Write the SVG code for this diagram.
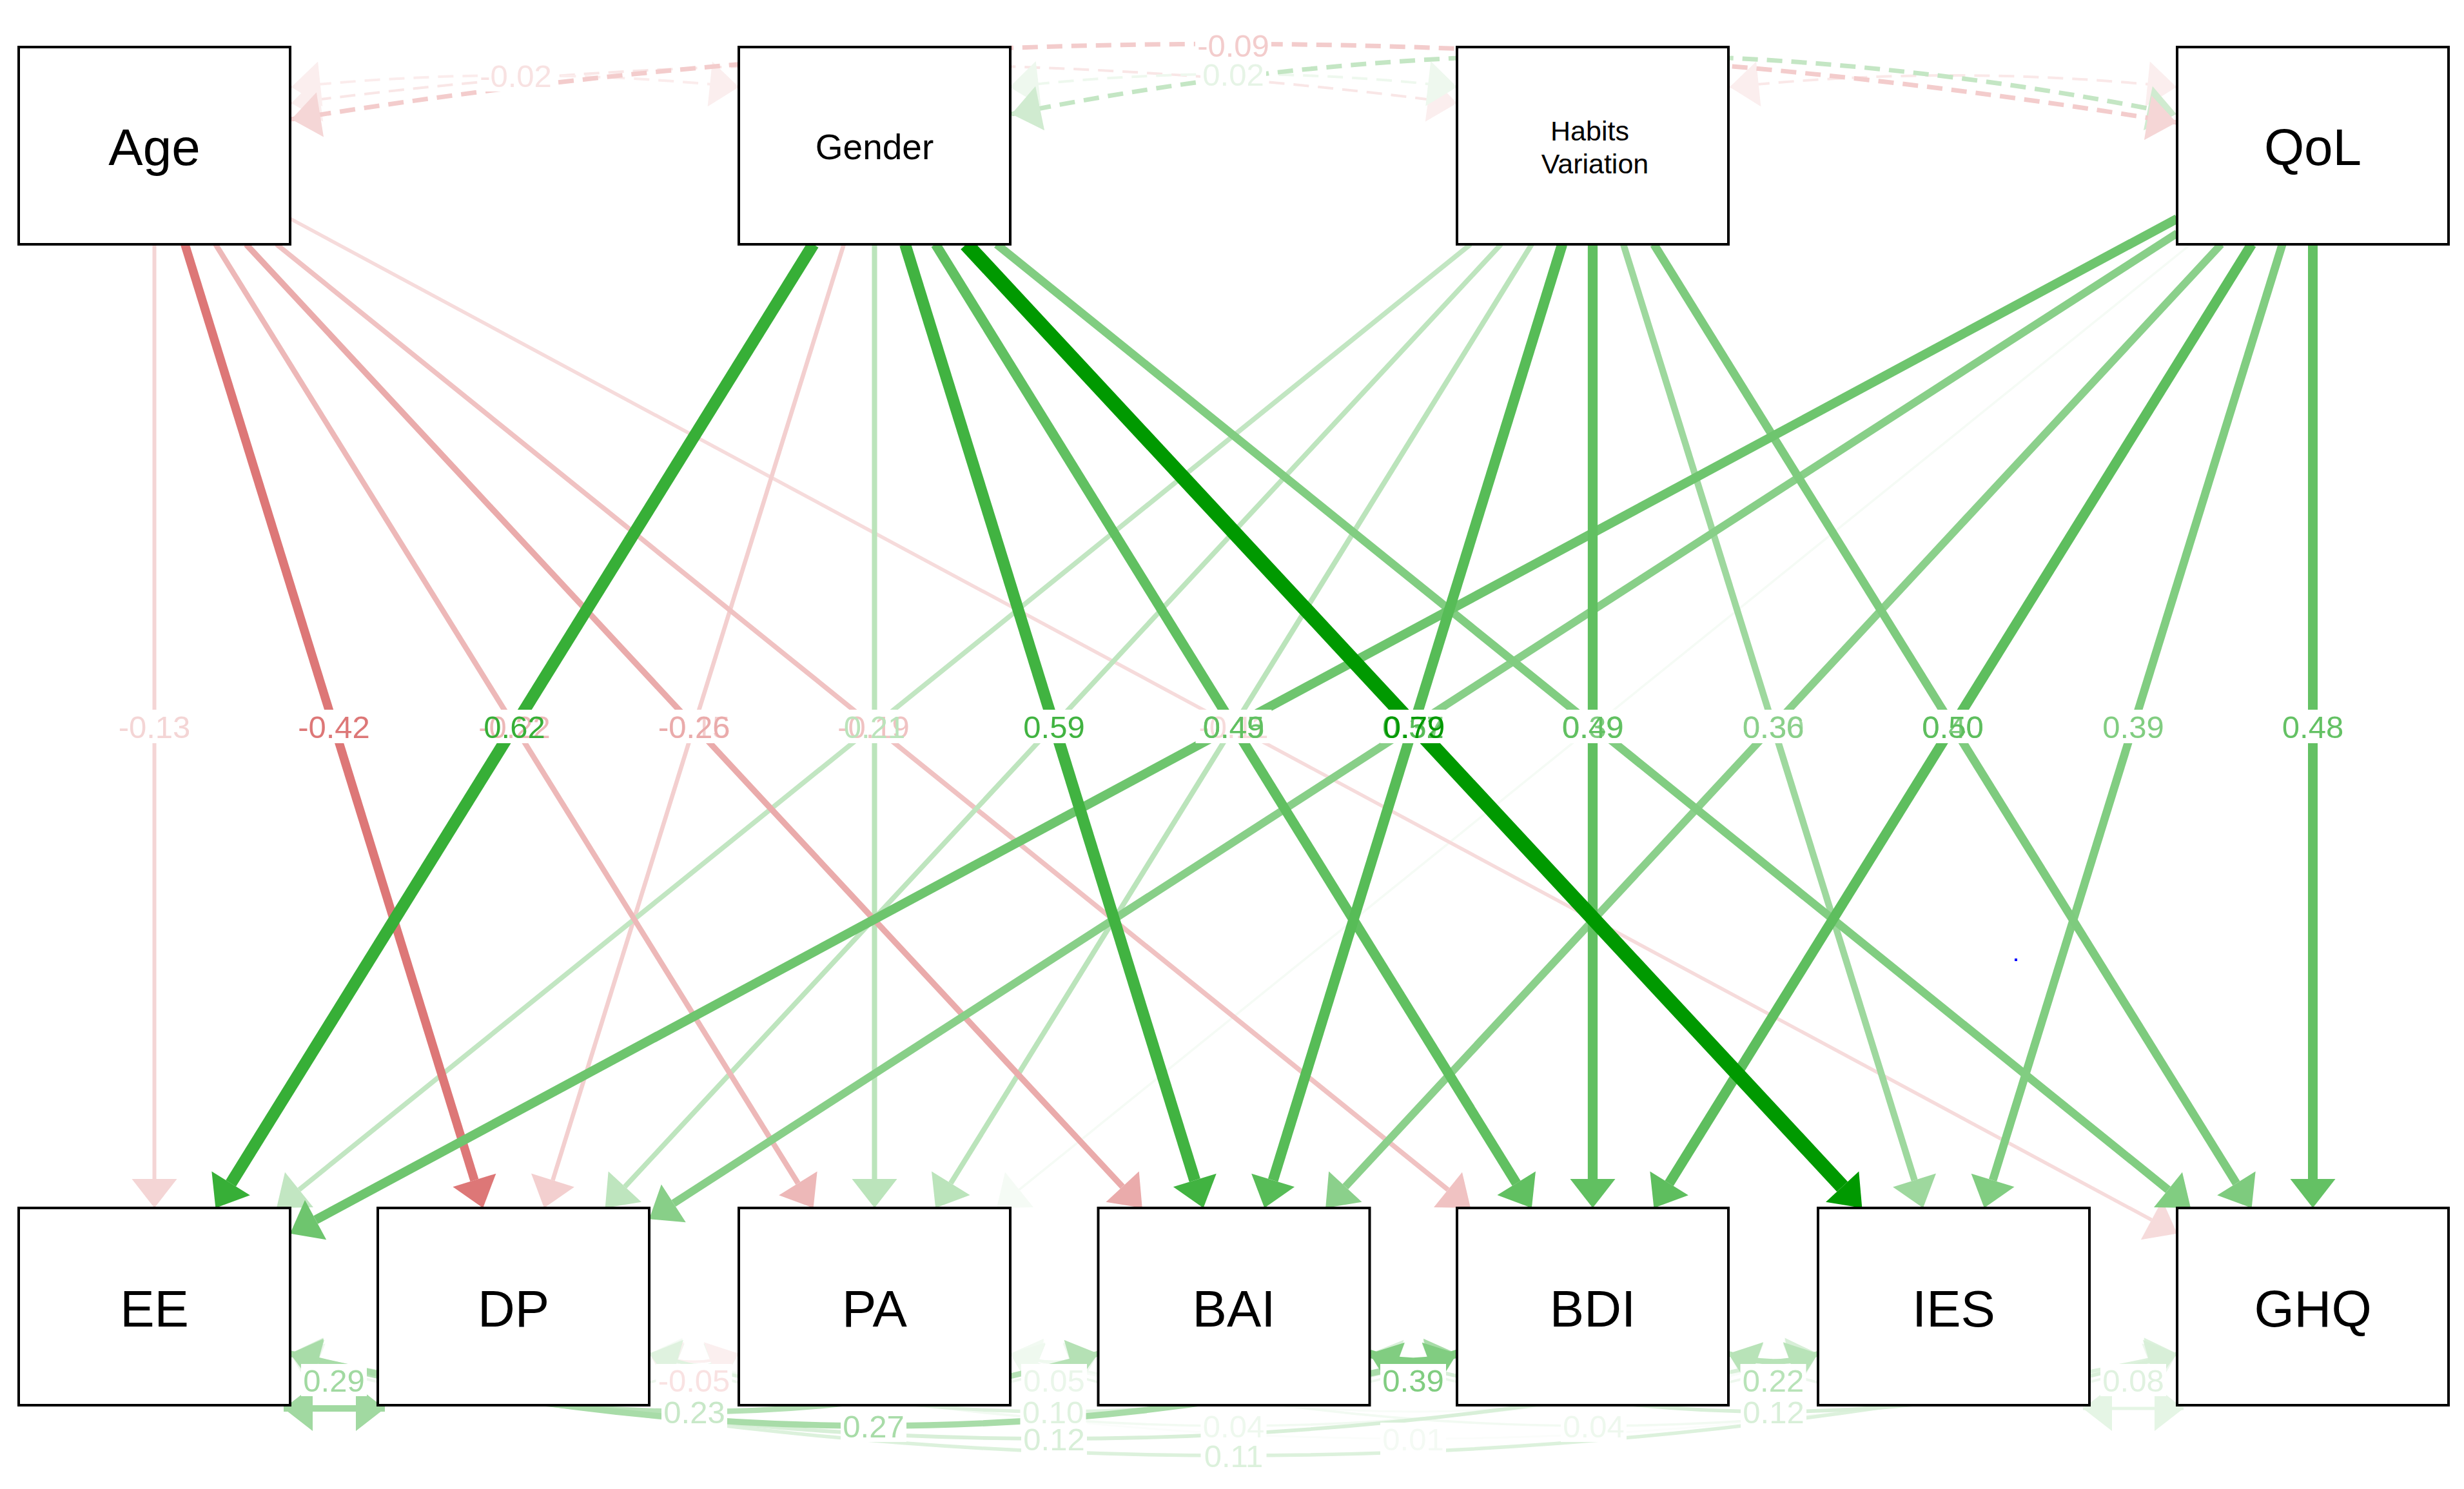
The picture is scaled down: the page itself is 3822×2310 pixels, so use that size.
<svg xmlns="http://www.w3.org/2000/svg" width="3822" height="2310" viewBox="0 0 3822 2310">
<style>
.e{fill:none;stroke-linecap:butt}
.d{stroke-dasharray:24 14}
.bg{fill:#fff}
.l{font-family:"Liberation Sans",Arial,sans-serif;font-size:49px;text-anchor:middle}
.n{fill:#fff;stroke:#000;stroke-width:4}
.nt{font-family:"Liberation Sans",Arial,sans-serif;text-anchor:middle;fill:#000}
</style>
<defs>
<!-- base markers: line ends at arrow base -->
<marker id="a-f4d5d5" markerUnits="userSpaceOnUse" markerWidth="46" markerHeight="71" refX="0" refY="35" orient="auto" overflow="visible"><path d="M0,0L45,35L0,70z" fill="#f4d5d5"/></marker>
<marker id="a-dd7777" markerUnits="userSpaceOnUse" markerWidth="46" markerHeight="71" refX="0" refY="35" orient="auto" overflow="visible"><path d="M0,0L45,35L0,70z" fill="#dd7777"/></marker>
<marker id="a-edb8b8" markerUnits="userSpaceOnUse" markerWidth="46" markerHeight="71" refX="0" refY="35" orient="auto" overflow="visible"><path d="M0,0L45,35L0,70z" fill="#edb8b8"/></marker>
<marker id="a-eaabab" markerUnits="userSpaceOnUse" markerWidth="46" markerHeight="71" refX="0" refY="35" orient="auto" overflow="visible"><path d="M0,0L45,35L0,70z" fill="#eaabab"/></marker>
<marker id="a-f0c2c2" markerUnits="userSpaceOnUse" markerWidth="46" markerHeight="71" refX="0" refY="35" orient="auto" overflow="visible"><path d="M0,0L45,35L0,70z" fill="#f0c2c2"/></marker>
<marker id="a-f6dbdb" markerUnits="userSpaceOnUse" markerWidth="46" markerHeight="71" refX="0" refY="35" orient="auto" overflow="visible"><path d="M0,0L45,35L0,70z" fill="#f6dbdb"/></marker>
<marker id="a-f3cfcf" markerUnits="userSpaceOnUse" markerWidth="46" markerHeight="71" refX="0" refY="35" orient="auto" overflow="visible"><path d="M0,0L45,35L0,70z" fill="#f3cfcf"/></marker>
<marker id="a-37af37" markerUnits="userSpaceOnUse" markerWidth="46" markerHeight="71" refX="0" refY="35" orient="auto" overflow="visible"><path d="M0,0L45,35L0,70z" fill="#37af37"/></marker>
<marker id="a-bbe4bb" markerUnits="userSpaceOnUse" markerWidth="46" markerHeight="71" refX="0" refY="35" orient="auto" overflow="visible"><path d="M0,0L45,35L0,70z" fill="#bbe4bb"/></marker>
<marker id="a-41b341" markerUnits="userSpaceOnUse" markerWidth="46" markerHeight="71" refX="0" refY="35" orient="auto" overflow="visible"><path d="M0,0L45,35L0,70z" fill="#41b341"/></marker>
<marker id="a-61c061" markerUnits="userSpaceOnUse" markerWidth="46" markerHeight="71" refX="0" refY="35" orient="auto" overflow="visible"><path d="M0,0L45,35L0,70z" fill="#61c061"/></marker>
<marker id="a-009900" markerUnits="userSpaceOnUse" markerWidth="46" markerHeight="71" refX="0" refY="35" orient="auto" overflow="visible"><path d="M0,0L45,35L0,70z" fill="#009900"/></marker>
<marker id="a-81cd81" markerUnits="userSpaceOnUse" markerWidth="46" markerHeight="71" refX="0" refY="35" orient="auto" overflow="visible"><path d="M0,0L45,35L0,70z" fill="#81cd81"/></marker>
<marker id="a-c2e6c2" markerUnits="userSpaceOnUse" markerWidth="46" markerHeight="71" refX="0" refY="35" orient="auto" overflow="visible"><path d="M0,0L45,35L0,70z" fill="#c2e6c2"/></marker>
<marker id="a-bee5be" markerUnits="userSpaceOnUse" markerWidth="46" markerHeight="71" refX="0" refY="35" orient="auto" overflow="visible"><path d="M0,0L45,35L0,70z" fill="#bee5be"/></marker>
<marker id="a-57bc57" markerUnits="userSpaceOnUse" markerWidth="46" markerHeight="71" refX="0" refY="35" orient="auto" overflow="visible"><path d="M0,0L45,35L0,70z" fill="#57bc57"/></marker>
<marker id="a-9ed89e" markerUnits="userSpaceOnUse" markerWidth="46" markerHeight="71" refX="0" refY="35" orient="auto" overflow="visible"><path d="M0,0L45,35L0,70z" fill="#9ed89e"/></marker>
<marker id="a-7ecb7e" markerUnits="userSpaceOnUse" markerWidth="46" markerHeight="71" refX="0" refY="35" orient="auto" overflow="visible"><path d="M0,0L45,35L0,70z" fill="#7ecb7e"/></marker>
<marker id="a-6ec56e" markerUnits="userSpaceOnUse" markerWidth="46" markerHeight="71" refX="0" refY="35" orient="auto" overflow="visible"><path d="M0,0L45,35L0,70z" fill="#6ec56e"/></marker>
<marker id="a-88cf88" markerUnits="userSpaceOnUse" markerWidth="46" markerHeight="71" refX="0" refY="35" orient="auto" overflow="visible"><path d="M0,0L45,35L0,70z" fill="#88cf88"/></marker>
<marker id="a-f5fbf5" markerUnits="userSpaceOnUse" markerWidth="46" markerHeight="71" refX="0" refY="35" orient="auto" overflow="visible"><path d="M0,0L45,35L0,70z" fill="#f5fbf5"/></marker>
<marker id="a-8bd08b" markerUnits="userSpaceOnUse" markerWidth="46" markerHeight="71" refX="0" refY="35" orient="auto" overflow="visible"><path d="M0,0L45,35L0,70z" fill="#8bd08b"/></marker>
<marker id="a-5ebe5e" markerUnits="userSpaceOnUse" markerWidth="46" markerHeight="71" refX="0" refY="35" orient="auto" overflow="visible"><path d="M0,0L45,35L0,70z" fill="#5ebe5e"/></marker>
<marker id="a-64c164" markerUnits="userSpaceOnUse" markerWidth="46" markerHeight="71" refX="0" refY="35" orient="auto" overflow="visible"><path d="M0,0L45,35L0,70z" fill="#64c164"/></marker>
<!-- tip markers: path ends at arrow tip, both ends -->
<marker id="t-f3cccc" markerUnits="userSpaceOnUse" markerWidth="46" markerHeight="71" refX="45" refY="35" orient="auto-start-reverse" overflow="visible"><path d="M0,0L45,35L0,70z" fill="#f5d6d6"/></marker>
<marker id="t-c4e6c4" markerUnits="userSpaceOnUse" markerWidth="46" markerHeight="71" refX="45" refY="35" orient="auto-start-reverse" overflow="visible"><path d="M0,0L45,35L0,70z" fill="#d0ebd0"/></marker>
<marker id="t-fbecec" markerUnits="userSpaceOnUse" markerWidth="46" markerHeight="71" refX="45" refY="35" orient="auto-start-reverse" overflow="visible"><path d="M0,0L45,35L0,70z" fill="#fbeeee"/></marker>
<marker id="t-eef8ee" markerUnits="userSpaceOnUse" markerWidth="46" markerHeight="71" refX="45" refY="35" orient="auto-start-reverse" overflow="visible"><path d="M0,0L45,35L0,70z" fill="#eef8ee"/></marker>
<marker id="t-fae8e8" markerUnits="userSpaceOnUse" markerWidth="46" markerHeight="71" refX="45" refY="35" orient="auto-start-reverse" overflow="visible"><path d="M0,0L45,35L0,70z" fill="#fbeeee"/></marker>
<marker id="t-a1d9a1" markerUnits="userSpaceOnUse" markerWidth="46" markerHeight="71" refX="45" refY="35" orient="auto-start-reverse" overflow="visible"><path d="M0,0L45,35L0,70z" fill="#a1d9a1"/></marker>
<marker id="t-fbefef" markerUnits="userSpaceOnUse" markerWidth="46" markerHeight="71" refX="45" refY="35" orient="auto-start-reverse" overflow="visible"><path d="M0,0L45,35L0,70z" fill="#fbefef"/></marker>
<marker id="t-eff9ef" markerUnits="userSpaceOnUse" markerWidth="46" markerHeight="71" refX="45" refY="35" orient="auto-start-reverse" overflow="visible"><path d="M0,0L45,35L0,70z" fill="#eff9ef"/></marker>
<marker id="t-81cd81" markerUnits="userSpaceOnUse" markerWidth="46" markerHeight="71" refX="45" refY="35" orient="auto-start-reverse" overflow="visible"><path d="M0,0L45,35L0,70z" fill="#81cd81"/></marker>
<marker id="t-b8e3b8" markerUnits="userSpaceOnUse" markerWidth="46" markerHeight="71" refX="45" refY="35" orient="auto-start-reverse" overflow="visible"><path d="M0,0L45,35L0,70z" fill="#b8e3b8"/></marker>
<marker id="t-e5f5e5" markerUnits="userSpaceOnUse" markerWidth="46" markerHeight="71" refX="45" refY="35" orient="auto-start-reverse" overflow="visible"><path d="M0,0L45,35L0,70z" fill="#e5f5e5"/></marker>
<marker id="t-b5e1b5" markerUnits="userSpaceOnUse" markerWidth="46" markerHeight="71" refX="45" refY="35" orient="auto-start-reverse" overflow="visible"><path d="M0,0L45,35L0,70z" fill="#b5e1b5"/></marker>
<marker id="t-dff2df" markerUnits="userSpaceOnUse" markerWidth="46" markerHeight="71" refX="45" refY="35" orient="auto-start-reverse" overflow="visible"><path d="M0,0L45,35L0,70z" fill="#dff2df"/></marker>
<marker id="t-f8fcf8" markerUnits="userSpaceOnUse" markerWidth="46" markerHeight="71" refX="45" refY="35" orient="auto-start-reverse" overflow="visible"><path d="M0,0L45,35L0,70z" fill="#f8fcf8"/></marker>
<marker id="t-d8efd8" markerUnits="userSpaceOnUse" markerWidth="46" markerHeight="71" refX="45" refY="35" orient="auto-start-reverse" overflow="visible"><path d="M0,0L45,35L0,70z" fill="#d8efd8"/></marker>
<marker id="t-a8dca8" markerUnits="userSpaceOnUse" markerWidth="46" markerHeight="71" refX="45" refY="35" orient="auto-start-reverse" overflow="visible"><path d="M0,0L45,35L0,70z" fill="#a8dca8"/></marker>
<marker id="t-f2faf2" markerUnits="userSpaceOnUse" markerWidth="46" markerHeight="71" refX="45" refY="35" orient="auto-start-reverse" overflow="visible"><path d="M0,0L45,35L0,70z" fill="#f2faf2"/></marker>
<marker id="t-dcf1dc" markerUnits="userSpaceOnUse" markerWidth="46" markerHeight="71" refX="45" refY="35" orient="auto-start-reverse" overflow="visible"><path d="M0,0L45,35L0,70z" fill="#dcf1dc"/></marker>
<marker id="t-edf7ed" markerUnits="userSpaceOnUse" markerWidth="46" markerHeight="71" refX="45" refY="35" orient="auto-start-reverse" overflow="visible"><path d="M0,0L45,35L0,70z" fill="#edf7ed"/></marker>
</defs>
<rect width="3822" height="2310" fill="#fff"/>
<g id="connectors">
<!-- top covariances -->
<path class="e d" d="M452,160 Q1355,40 2260,160" stroke="#f9e6e6" stroke-width="4" marker-start="url(#t-fae8e8)" marker-end="url(#t-fae8e8)"/>
<path class="e d" d="M2683,135 Q3029,99 3376,135" stroke="#fae8e8" stroke-width="4" marker-start="url(#t-fae8e8)" marker-end="url(#t-fae8e8)"/>
<path class="e d" d="M452,135 Q798,99 1146,135" stroke="#fbecec" stroke-width="4" marker-start="url(#t-fbecec)" marker-end="url(#t-fbecec)"/>
<path class="e d" d="M1566,135 Q1913,95 2260,135" stroke="#eef8ee" stroke-width="4" marker-start="url(#t-eef8ee)" marker-end="url(#t-eef8ee)"/>
<path class="e d" d="M1569,177 Q2472,-7 3376,177" stroke="#c4e6c4" stroke-width="7" marker-start="url(#t-c4e6c4)" marker-end="url(#t-c4e6c4)"/>
<path class="e d" d="M452,185 Q1913,-51 3376,190" stroke="#f3cccc" stroke-width="7" marker-start="url(#t-f3cccc)" marker-end="url(#t-f3cccc)"/>
<!-- regressions -->
<line class="e" x1="3398" y1="379" x2="1581" y2="1845.7" stroke="#f5fbf5" stroke-width="3.5" marker-end="url(#a-f5fbf5)"/>
<line class="e" x1="450" y1="339.2" x2="3337.4" y2="1892.5" stroke="#f6dbdb" stroke-width="5.5" marker-end="url(#a-f6dbdb)"/>
<line class="e" x1="239.5" y1="379" x2="239.5" y2="1829" stroke="#f4d5d5" stroke-width="6" marker-end="url(#a-f4d5d5)"/>
<line class="e" x1="1308.9" y1="379" x2="857.4" y2="1831" stroke="#f3cfcf" stroke-width="6.6" marker-end="url(#a-f3cfcf)"/>
<line class="e" x1="429" y1="379" x2="2246" y2="1845.7" stroke="#f0c2c2" stroke-width="7.6" marker-end="url(#a-f0c2c2)"/>
<line class="e" x1="2281" y1="379" x2="464" y2="1845.7" stroke="#c2e6c2" stroke-width="7.6" marker-end="url(#a-c2e6c2)"/>
<line class="e" x1="2328.3" y1="379" x2="969.3" y2="1841" stroke="#bee5be" stroke-width="7.8" marker-end="url(#a-bee5be)"/>
<line class="e" x1="1356.5" y1="379" x2="1356.5" y2="1829" stroke="#bbe4bb" stroke-width="8.1" marker-end="url(#a-bbe4bb)"/>
<line class="e" x1="2375.9" y1="379" x2="1474.8" y2="1835.7" stroke="#bbe4bb" stroke-width="8.1" marker-end="url(#a-bbe4bb)"/>
<line class="e" x1="334.4" y1="379" x2="1237.9" y2="1835.8" stroke="#edb8b8" stroke-width="8.4" marker-end="url(#a-edb8b8)"/>
<line class="e" x1="381.8" y1="379" x2="1741.1" y2="1841" stroke="#eaabab" stroke-width="9.4" marker-end="url(#a-eaabab)"/>
<line class="e" x1="2518.1" y1="379" x2="2969.6" y2="1831" stroke="#9ed89e" stroke-width="10.4" marker-end="url(#a-9ed89e)"/>
<line class="e" x1="3445.3" y1="379" x2="2086.8" y2="1841" stroke="#8bd08b" stroke-width="12" marker-end="url(#a-8bd08b)"/>
<line class="e" x1="3377" y1="361.8" x2="1044.8" y2="1866.8" stroke="#88cf88" stroke-width="12.2" marker-end="url(#a-88cf88)"/>
<line class="e" x1="1546" y1="379" x2="3363" y2="1845.7" stroke="#81cd81" stroke-width="12.7" marker-end="url(#a-81cd81)"/>
<line class="e" x1="3540.2" y1="379" x2="3091.1" y2="1831" stroke="#81cd81" stroke-width="12.7" marker-end="url(#a-81cd81)"/>
<line class="e" x1="2565.4" y1="379" x2="3468.9" y2="1835.8" stroke="#7ecb7e" stroke-width="13" marker-end="url(#a-7ecb7e)"/>
<line class="e" x1="286.8" y1="379" x2="735.9" y2="1831" stroke="#dd7777" stroke-width="13.5" marker-end="url(#a-dd7777)"/>
<line class="e" x1="3377" y1="339.2" x2="489.6" y2="1892.5" stroke="#6ec56e" stroke-width="14.3" marker-end="url(#a-6ec56e)"/>
<line class="e" x1="3587.5" y1="379" x2="3587.5" y2="1829" stroke="#64c164" stroke-width="15" marker-end="url(#a-64c164)"/>
<line class="e" x1="1451.1" y1="379" x2="2352.2" y2="1835.7" stroke="#61c061" stroke-width="15.3" marker-end="url(#a-61c061)"/>
<line class="e" x1="2470.5" y1="379" x2="2470.5" y2="1829" stroke="#61c061" stroke-width="15.3" marker-end="url(#a-61c061)"/>
<line class="e" x1="3492.6" y1="379" x2="2589.1" y2="1835.8" stroke="#5ebe5e" stroke-width="15.6" marker-end="url(#a-5ebe5e)"/>
<line class="e" x1="2423.2" y1="379" x2="1974.6" y2="1831" stroke="#57bc57" stroke-width="16.1" marker-end="url(#a-57bc57)"/>
<line class="e" x1="1403.9" y1="379" x2="1853.3" y2="1831" stroke="#41b341" stroke-width="17.9" marker-end="url(#a-41b341)"/>
<line class="e" x1="1261.6" y1="379" x2="358.1" y2="1835.8" stroke="#37af37" stroke-width="18.6" marker-end="url(#a-37af37)"/>
<line class="e" x1="1498.7" y1="379" x2="2857.7" y2="1841" stroke="#009900" stroke-width="23" marker-end="url(#a-009900)"/>
<!-- bottom covariances -->
<path class="e" d="M450,2100 Q798,2240 1146,2100" stroke="#edf7ed" stroke-width="4" marker-start="url(#t-edf7ed)" marker-end="url(#t-edf7ed)"/>
<path class="e" d="M1007,2100 Q1355,2240 1703.5,2100" stroke="#edf7ed" stroke-width="4" marker-start="url(#t-edf7ed)" marker-end="url(#t-edf7ed)"/>
<path class="e" d="M1567,2100 Q1913.5,2240 2260,2100" stroke="#edf7ed" stroke-width="4" marker-start="url(#t-edf7ed)" marker-end="url(#t-edf7ed)"/>
<path class="e" d="M2124.5,2100 Q2472,2240 2820,2100" stroke="#edf7ed" stroke-width="4" marker-start="url(#t-edf7ed)" marker-end="url(#t-edf7ed)"/>
<path class="e" d="M2681,2100 Q3029,2240 3377,2100" stroke="#edf7ed" stroke-width="4" marker-start="url(#t-edf7ed)" marker-end="url(#t-edf7ed)"/>
<path class="e" d="M1567,2100 Q2193.5,2280 2820,2100" stroke="#f8fcf8" stroke-width="3" marker-start="url(#t-f8fcf8)" marker-end="url(#t-f8fcf8)"/>
<path class="e" d="M1007,2100 Q2192,2364 3377,2100" stroke="#fbfdfb" stroke-width="3" marker-start="url(#t-f8fcf8)" marker-end="url(#t-f8fcf8)"/>
<path class="e" d="M1007,2100 Q1913.5,2324 2820,2100" stroke="#f2faf2" stroke-width="3.7" marker-start="url(#t-f2faf2)" marker-end="url(#t-f2faf2)"/>
<path class="e" d="M1567,2100 Q2472,2324 3377,2100" stroke="#f2faf2" stroke-width="3.7" marker-start="url(#t-f2faf2)" marker-end="url(#t-f2faf2)"/>
<path class="e" d="M1007,2100 Q1076.5,2125 1146,2100" stroke="#fbefef" stroke-width="4" marker-start="url(#t-fbefef)" marker-end="url(#t-fbefef)"/>
<path class="e" d="M1567,2100 Q1635,2125 1703.5,2100" stroke="#eff9ef" stroke-width="4" marker-start="url(#t-eff9ef)" marker-end="url(#t-eff9ef)"/>
<path class="e" d="M3231,2185 L3387,2185" stroke="#e5f5e5" stroke-width="4.8" marker-start="url(#t-e5f5e5)" marker-end="url(#t-e5f5e5)"/>
<path class="e" d="M1007,2100 Q1633.5,2280 2260,2100" stroke="#dff2df" stroke-width="5.3" marker-start="url(#t-dff2df)" marker-end="url(#t-dff2df)"/>
<path class="e" d="M450,2100 Q1913.5,2416 3377,2100" stroke="#dcf1dc" stroke-width="5.5" marker-start="url(#t-dcf1dc)" marker-end="url(#t-dcf1dc)"/>
<path class="e" d="M2124.5,2100 Q2751,2280 3377,2100" stroke="#d8efd8" stroke-width="5.8" marker-start="url(#t-d8efd8)" marker-end="url(#t-d8efd8)"/>
<path class="e" d="M450,2100 Q1635,2364 2820,2100" stroke="#d8efd8" stroke-width="5.8" marker-start="url(#t-d8efd8)" marker-end="url(#t-d8efd8)"/>
<path class="e" d="M2681,2100 Q2750.5,2125 2820,2100" stroke="#b8e3b8" stroke-width="8.4" marker-start="url(#t-b8e3b8)" marker-end="url(#t-b8e3b8)"/>
<path class="e" d="M450,2100 Q1077,2280 1703.5,2100" stroke="#b5e1b5" stroke-width="8.6" marker-start="url(#t-b5e1b5)" marker-end="url(#t-b5e1b5)"/>
<path class="e" d="M450,2100 Q1355,2324 2260,2100" stroke="#a8dca8" stroke-width="9.6" marker-start="url(#t-a8dca8)" marker-end="url(#t-a8dca8)"/>
<path class="e" d="M440,2185 L597,2185" stroke="#a1d9a1" stroke-width="10.2" marker-start="url(#t-a1d9a1)" marker-end="url(#t-a1d9a1)"/>
<path class="e" d="M2124.5,2100 Q2192,2125 2260,2100" stroke="#81cd81" stroke-width="12.7" marker-start="url(#t-81cd81)" marker-end="url(#t-81cd81)"/>
<!-- label backgrounds -->
<g class="bg">
<rect x="1854" y="45" width="118" height="50"/>
<rect x="741" y="92" width="118" height="50"/>
<rect x="1862" y="90" width="102" height="50"/>
<rect x="180.5" y="1101" width="118" height="52"/>
<rect x="459" y="1101" width="118" height="52"/>
<rect x="739" y="1101" width="118" height="52"/>
<rect x="1017.5" y="1101" width="118" height="52"/>
<rect x="1296" y="1101" width="118" height="52"/>
<rect x="1584" y="1101" width="102" height="52"/>
<rect x="1854.5" y="1101" width="118" height="52"/>
<rect x="2141" y="1101" width="102" height="52"/>
<rect x="2420" y="1101" width="102" height="52"/>
<rect x="2699.5" y="1101" width="102" height="52"/>
<rect x="2978" y="1101" width="102" height="52"/>
<rect x="3258" y="1101" width="102" height="52"/>
<rect x="3536.5" y="1101" width="102" height="52"/>
<rect x="467" y="2116" width="102" height="50"/>
<rect x="1017.5" y="2116" width="118" height="50"/>
<rect x="1584" y="2116" width="102" height="50"/>
<rect x="2141" y="2116" width="102" height="50"/>
<rect x="2699.5" y="2116" width="102" height="50"/>
<rect x="3258" y="2116" width="102" height="50"/>
<rect x="1026" y="2165" width="102" height="50"/>
<rect x="1582.5" y="2165" width="102" height="50"/>
<rect x="2700" y="2165" width="102" height="50"/>
<rect x="1304" y="2187" width="102" height="50"/>
<rect x="1862.5" y="2187" width="102" height="50"/>
<rect x="2421" y="2187" width="102" height="50"/>
<rect x="1584" y="2207" width="102" height="50"/>
<rect x="2141" y="2207" width="102" height="50"/>
<rect x="1862.5" y="2233" width="102" height="50"/>
</g>
<!-- labels -->
<g class="l">
<text x="1913" y="88" fill="#f3cccc">-0.09</text>
<text x="800" y="135" fill="#f8e2e2">-0.02</text>
<text x="1913" y="133" fill="#e6f4e6">0.02</text>
<text x="239.5" y="1145" fill="#f4d5d5">-0.13</text>
<text x="518" y="1145" fill="#dd7777">-0.42</text>
<text x="798" y="1145" fill="#edb8b8">-0.22</text>
<text x="798" y="1145" fill="#37af37">0.62</text>
<text x="1076.5" y="1145" fill="#f3cfcf">-0.15</text>
<text x="1076.75" y="1145" fill="#eaabab">-0.26</text>
<text x="1355" y="1145" fill="#f0c2c2">-0.19</text>
<text x="1356.5" y="1145" fill="#bbe4bb">0.21</text>
<text x="1635" y="1145" fill="#41b341">0.59</text>
<text x="1913.5" y="1145" fill="#f6dbdb">-0.11</text>
<text x="1913.5" y="1145" fill="#6ec56e">0.45</text>
<text x="1913.5" y="1145" fill="#61c061">0.49</text>
<text x="2192" y="1145" fill="#88cf88">0.37</text>
<text x="2192" y="1145" fill="#57bc57">0.52</text>
<text x="2193.5" y="1145" fill="#009900">0.79</text>
<text x="2471" y="1145" fill="#81cd81">0.39</text>
<text x="2470.5" y="1145" fill="#61c061">0.49</text>
<text x="2750.5" y="1145" fill="#9ed89e">0.30</text>
<text x="2750.75" y="1145" fill="#8bd08b">0.36</text>
<text x="3029" y="1145" fill="#7ecb7e">0.40</text>
<text x="3029" y="1145" fill="#5ebe5e">0.50</text>
<text x="3309" y="1145" fill="#81cd81">0.39</text>
<text x="3587.5" y="1145" fill="#64c164">0.48</text>
<text x="518" y="2159" fill="#a1d9a1">0.29</text>
<text x="1076.5" y="2159" fill="#f9e2e2">-0.05</text>
<text x="1635" y="2159" fill="#eaf6ea">0.05</text>
<text x="2192" y="2159" fill="#81cd81">0.39</text>
<text x="2750.5" y="2159" fill="#b8e3b8">0.22</text>
<text x="3309" y="2159" fill="#e0f2e0">0.08</text>
<text x="1077" y="2208" fill="#c8e8c8">0.23</text>
<text x="1633.5" y="2208" fill="#dff2df">0.10</text>
<text x="2751" y="2208" fill="#d8efd8">0.12</text>
<text x="1355" y="2230" fill="#a8dca8">0.27</text>
<text x="1913.5" y="2230" fill="#eef8ee">0.04</text>
<text x="2472" y="2230" fill="#eef8ee">0.04</text>
<text x="1635" y="2250" fill="#d8efd8">0.12</text>
<text x="2192" y="2250" fill="#f4faf4">0.01</text>
<text x="1913.5" y="2276" fill="#dcf1dc">0.11</text>
</g>
</g>
<g id="node-Age"><rect class="n" x="29" y="73" width="421" height="306"/><text class="nt" x="239.5" y="256" font-size="80">Age</text></g>
<g id="node-Gender"><rect class="n" x="1146" y="73" width="421" height="306"/><text class="nt" x="1356.5" y="247" font-size="55">Gender</text></g>
<g id="node-Habits"><rect class="n" x="2260" y="73" width="421" height="306"/><text class="nt" x="2466" y="218" font-size="43">Habits</text><text class="nt" x="2474" y="269" font-size="43">Variation</text></g>
<g id="node-QoL"><rect class="n" x="3377" y="73" width="421" height="306"/><text class="nt" x="3587.5" y="256" font-size="80">QoL</text></g>
<g id="node-EE"><rect class="n" x="29" y="1874" width="421" height="306"/><text class="nt" x="239.5" y="2058" font-size="80">EE</text></g>
<g id="node-DP"><rect class="n" x="586" y="1874" width="421" height="306"/><text class="nt" x="796.5" y="2058" font-size="80">DP</text></g>
<g id="node-PA"><rect class="n" x="1146" y="1874" width="421" height="306"/><text class="nt" x="1356.5" y="2058" font-size="80">PA</text></g>
<g id="node-BAI"><rect class="n" x="1703.5" y="1874" width="421" height="306"/><text class="nt" x="1914" y="2058" font-size="80">BAI</text></g>
<g id="node-BDI"><rect class="n" x="2260" y="1874" width="421" height="306"/><text class="nt" x="2470.5" y="2058" font-size="80">BDI</text></g>
<g id="node-IES"><rect class="n" x="2820" y="1874" width="421" height="306"/><text class="nt" x="3030.5" y="2058" font-size="80">IES</text></g>
<g id="node-GHQ"><rect class="n" x="3377" y="1874" width="421" height="306"/><text class="nt" x="3587.5" y="2058" font-size="80">GHQ</text></g>
<rect x="3125" y="1487" width="4" height="4" fill="#0000ff"/>
</svg>
